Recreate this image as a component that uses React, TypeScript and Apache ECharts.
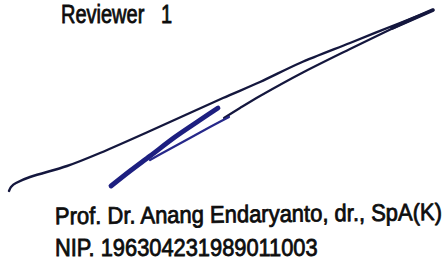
import React, { useEffect, useRef } from "react";
import * as echarts from "echarts";

const reviewerLabel = "Reviewer   1";
const nameLabel = "Prof. Dr. Anang Endaryanto, dr., SpA(K)";
const nipLabel = "NIP. 196304231989011003";

const upperStroke = [[9,191],[11,187],[16,183],[30,177],[67,166],[100,153],[150,131],[223,98],[260,82],[300,63],[350,43],[400,23],[433,10]];
const returnStroke = [[431,11],[400,25],[383,33],[350,49],[300,74],[260,96],[240,108],[224,118]];
const tipStroke = [[392,28],[433,10]];
const thickStroke = [[111,186],[130,171],[150,156],[175,137],[200,120],[218,108]];
const strandStroke = [[229,117],[210,127],[190,138],[168,150],[150,160]];

function strokeSeries(data: number[][], width: number, color: string) {
  return {
    type: "line",
    data,
    showSymbol: false,
    smooth: 0.3,
    silent: true,
    lineStyle: { width, color, cap: "round", join: "round" },
  };
}

export default function App() {
  const ref = useRef<HTMLDivElement>(null);
  useEffect(() => {
    if (!ref.current) return;
    const chart = echarts.init(ref.current, undefined, { renderer: "svg" });
    const textStyle = (fontSize: number) => ({
      fill: "#0d0d0d",
      stroke: "#0d0d0d",
      lineWidth: 0.8,
      fontSize,
      fontFamily: "'Liberation Sans', Arial, sans-serif",
      verticalAlign: "middle",
      align: "left",
    });
    chart.setOption({
      animation: false,
      backgroundColor: "#ffffff",
      grid: { left: 0, right: 0, top: 0, bottom: 0 },
      xAxis: { type: "value", min: 0, max: 446, show: false },
      yAxis: { type: "value", min: 0, max: 271, inverse: true, show: false },
      series: [
        strokeSeries(upperStroke, 2.4, "#14173e"),
        strokeSeries(returnStroke, 2.2, "#14173e"),
        strokeSeries(tipStroke, 3.6, "#14173e"),
        strokeSeries(strandStroke, 2.2, "#26288a"),
        strokeSeries(thickStroke, 4.8, "#1d1f80"),
      ],
      graphic: [
        { type: "text", x: 61, y: 14.5, scaleX: 0.8, style: { ...textStyle(25), text: reviewerLabel } },
        { type: "text", x: 55, y: 216, scaleX: 0.915, rotation: 0.0105, style: { ...textStyle(24), text: nameLabel } },
        { type: "text", x: 55, y: 247.5, scaleX: 0.91, style: { ...textStyle(24), text: nipLabel } },
      ],
    });
    return () => chart.dispose();
  }, []);
  return <div ref={ref} style={{ position: "fixed", left: 0, top: 0, width: 446, height: 271 }} />;
}
